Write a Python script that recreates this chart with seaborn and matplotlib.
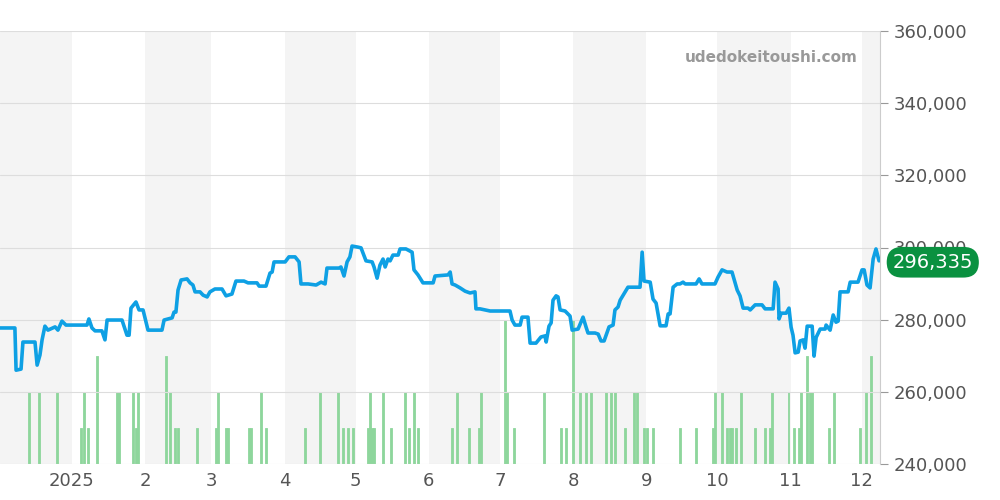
import matplotlib
matplotlib.use("Agg")
import matplotlib.pyplot as plt
import seaborn as sns
import pandas as pd
import numpy as np

# price: days since 2024-12-01, value (thousand yen)
price_days = [0.6,6.9,7.4,9.5,10.3,15.4,16.3,17.5,18.4,19.6,20.9,23.9,25.1,26.8,28.5,31.1,37.4,38.2,39.5,40.8,43.7,45.0,45.9,52.2,54.3,55.2,56.0,58.1,59.4,61.1,63.2,69.1,70.0,73.4,74.2,75.0,75.9,77.2,79.7,81.0,82.2,83.1,85.2,86.5,88.2,89.4,91.5,94.5,96.2,98.7,100.4,103.8,105.5,109.3,110.2,113.1,114.8,115.7,116.5,121.2,122.8,125.4,127.1,127.9,130.9,134.3,136.4,138.1,138.9,144.0,144.8,146.1,147.4,148.6,149.5,152.0,153.3,155.4,158.0,158.8,160.1,161.3,162.6,163.5,164.7,165.6,166.8,169.0,169.8,172.3,174.9,175.7,177.4,179.5,183.8,184.6,190.1,191.0,191.8,193.1,195.2,197.3,199.4,201.5,201.9,203.6,205.8,207.9,216.3,217.2,218.4,220.6,221.4,223.9,224.8,227.3,229.4,231.1,231.6,232.8,233.7,234.5,235.8,236.6,237.5,239.6,241.7,242.6,245.1,247.2,248.5,249.3,252.3,253.6,254.8,256.1,258.2,259.9,260.7,262.0,262.9,265.0,266.2,271.3,272.2,273.0,275.6,276.8,278.1,279.8,282.3,283.2,284.0,285.3,287.0,288.2,289.5,290.4,295.0,296.3,297.5,303.0,304.3,306.0,308.1,310.2,312.4,313.6,314.9,317.0,317.9,320.0,322.9,324.2,327.6,328.4,329.7,330.1,331.0,333.1,334.3,335.2,336.0,336.9,338.2,339.0,340.3,341.1,342.0,344.1,344.9,345.8,347.5,349.6,350.0,351.7,353.0,354.2,355.1,355.9,359.3,360.2,363.5,365.2,366.1,367.3,368.6,369.9,371.1,372.4]
price_vals = [277.7,277.7,266.0,266.3,273.8,273.8,267.4,270.2,274.4,278.2,277.1,278.0,277.1,279.6,278.5,278.5,278.5,280.2,277.7,276.9,276.9,274.4,279.9,279.9,275.7,275.7,283.2,284.9,282.7,282.7,277.1,277.1,279.9,280.5,282.1,282.1,288.2,291.0,291.3,290.2,289.6,287.7,287.7,286.8,286.3,287.7,288.5,288.5,286.6,287.1,290.7,290.7,290.2,290.2,289.3,289.3,292.9,293.2,296.0,296.0,297.4,297.4,296.0,289.9,289.9,289.6,290.4,289.9,294.3,294.3,294.6,292.1,296.0,297.4,300.4,300.1,299.9,296.3,296.0,294.6,291.5,295.1,296.8,294.6,296.8,296.3,297.9,297.9,299.6,299.6,298.7,293.8,292.4,290.2,290.2,292.1,292.4,293.2,289.9,289.6,288.8,287.9,287.4,287.7,283.0,283.0,282.7,282.4,282.4,279.9,278.5,278.5,280.7,280.7,273.5,273.5,275.2,275.5,273.8,278.2,279.1,285.4,286.6,286.3,282.7,282.4,281.0,277.1,277.4,280.7,277.9,276.3,276.3,276.0,274.1,274.1,278.0,278.5,282.7,283.5,285.4,287.7,289.0,289.0,298.7,290.7,290.4,285.7,284.6,278.3,278.3,281.6,281.6,289.0,289.9,289.9,290.4,289.9,289.9,291.3,289.9,289.9,291.8,293.8,293.2,293.2,288.2,286.6,283.2,283.2,282.7,284.1,284.1,283.0,283.0,290.4,288.5,280.2,281.8,281.8,283.2,277.9,275.7,270.8,271.0,274.1,274.4,272.1,278.2,278.2,269.9,275.1,277.4,277.4,278.5,277.1,281.3,279.3,279.6,287.7,287.7,290.4,290.4,293.8,293.8,289.6,288.8,296.8,299.6,296.3]

vol_days = [12.9,17.1,24.7,34.9,36.1,37.8,41.6,50.1,50.9,56.9,58.1,59.0,70.8,72.5,74.6,75.9,83.9,92.0,92.8,96.2,97.0,105.9,106.8,111.0,113.1,129.6,136.0,143.6,145.7,147.8,149.9,156.3,157.1,158.0,158.8,162.6,166.0,171.9,173.6,175.7,177.4,191.8,193.9,199.0,203.2,204.1,214.2,215.1,218.0,230.7,237.9,240.0,243.0,246.0,248.5,250.6,257.0,259.1,260.7,265.0,268.8,270.1,273.0,274.3,276.8,288.2,295.0,302.2,303.0,306.0,308.1,309.4,310.2,311.9,314.0,320.0,324.2,326.3,327.2,334.1,336.5,338.6,339.5,342.0,343.2,344.1,351.3,353.4,364.4,366.9,369.0]
vol_vals = [2,2,2,1,2,1,3,2,2,2,1,2,3,2,1,1,1,1,2,1,1,1,1,2,1,1,2,2,1,1,1,1,2,1,1,2,1,2,1,2,1,1,2,1,1,2,4,2,1,2,1,1,4,2,2,2,2,2,2,1,2,2,1,1,1,1,1,1,2,2,1,1,1,1,2,1,1,1,2,2,1,1,2,3,2,2,1,2,1,2,3]

last_label = "296,335"
tick_labels = ["2025","2","3","4","5","6","7","8","9","10","11","12"]

start = pd.Timestamp("2024-12-01")
month_starts = pd.date_range("2024-12-01", "2026-01-01", freq="MS")
ms_days = [(m - start).days for m in month_starts]

sns.set_style("white")
fig = plt.figure(figsize=(10, 5), dpi=100)
pos = [0.0, 0.072, 0.88, 0.866]
xmin, xmax = 0.6, 372.8

axv = fig.add_axes(pos, zorder=0)
for i in range(0, len(ms_days) - 1, 2):
    axv.axvspan(ms_days[i], ms_days[i + 1], color="#f4f4f4", lw=0, zorder=0)
axv.bar(vol_days, vol_vals, width=0.7, color="#8ed69c", edgecolor="#8ed69c", lw=0.6, zorder=2)
axv.set_xlim(xmin, xmax)
axv.set_ylim(0, 12)
axv.axis("off")

ax = fig.add_axes(pos, zorder=1)
ax.patch.set_visible(False)
df = pd.DataFrame({"day": price_days, "price": [v * 1000 for v in price_vals]})
sns.lineplot(data=df, x="day", y="price", ax=ax, color="#0ea0e4", lw=2.6, zorder=5)

ax.set_xlim(xmin, xmax)
ax.set_ylim(240000, 360000)
ax.set_yticks(np.arange(240000, 360001, 20000))
ax.yaxis.tick_right()
ax.set_yticklabels([f"{v:,}" for v in range(240000, 360001, 20000)], fontsize=13, color="#555555")
ax.set_xticks(ms_days[1:13])
ax.set_xticklabels(tick_labels, fontsize=13, color="#555555")
ax.grid(axis="y", color="#dddddd", lw=0.8)
ax.set_xlabel(""); ax.set_ylabel("")
for s in ["top", "left", "bottom"]:
    ax.spines[s].set_visible(False)
ax.spines["right"].set_color("#cccccc")
ax.tick_params(axis="y", which="both", right=True, length=6, color="#999999", pad=4)
ax.tick_params(axis="x", length=0, pad=6)

ax.text(0.975, 0.955, "udedokeitoushi.com", transform=ax.transAxes, ha="right", va="top",
        fontsize=11, color="#999999", fontweight="bold")

yv = price_vals[-1] * 1000
ax.annotate(last_label, xy=(1.0, yv), xycoords=("axes fraction", "data"), xytext=(38, -1),
            textcoords="offset points", ha="center", va="center", fontsize=14, color="white",
            bbox=dict(boxstyle="round,pad=0.3,rounding_size=0.8", fc="#0a9140", ec="none"),
            annotation_clip=False, zorder=10)

fig.savefig("out.png", dpi=100)
